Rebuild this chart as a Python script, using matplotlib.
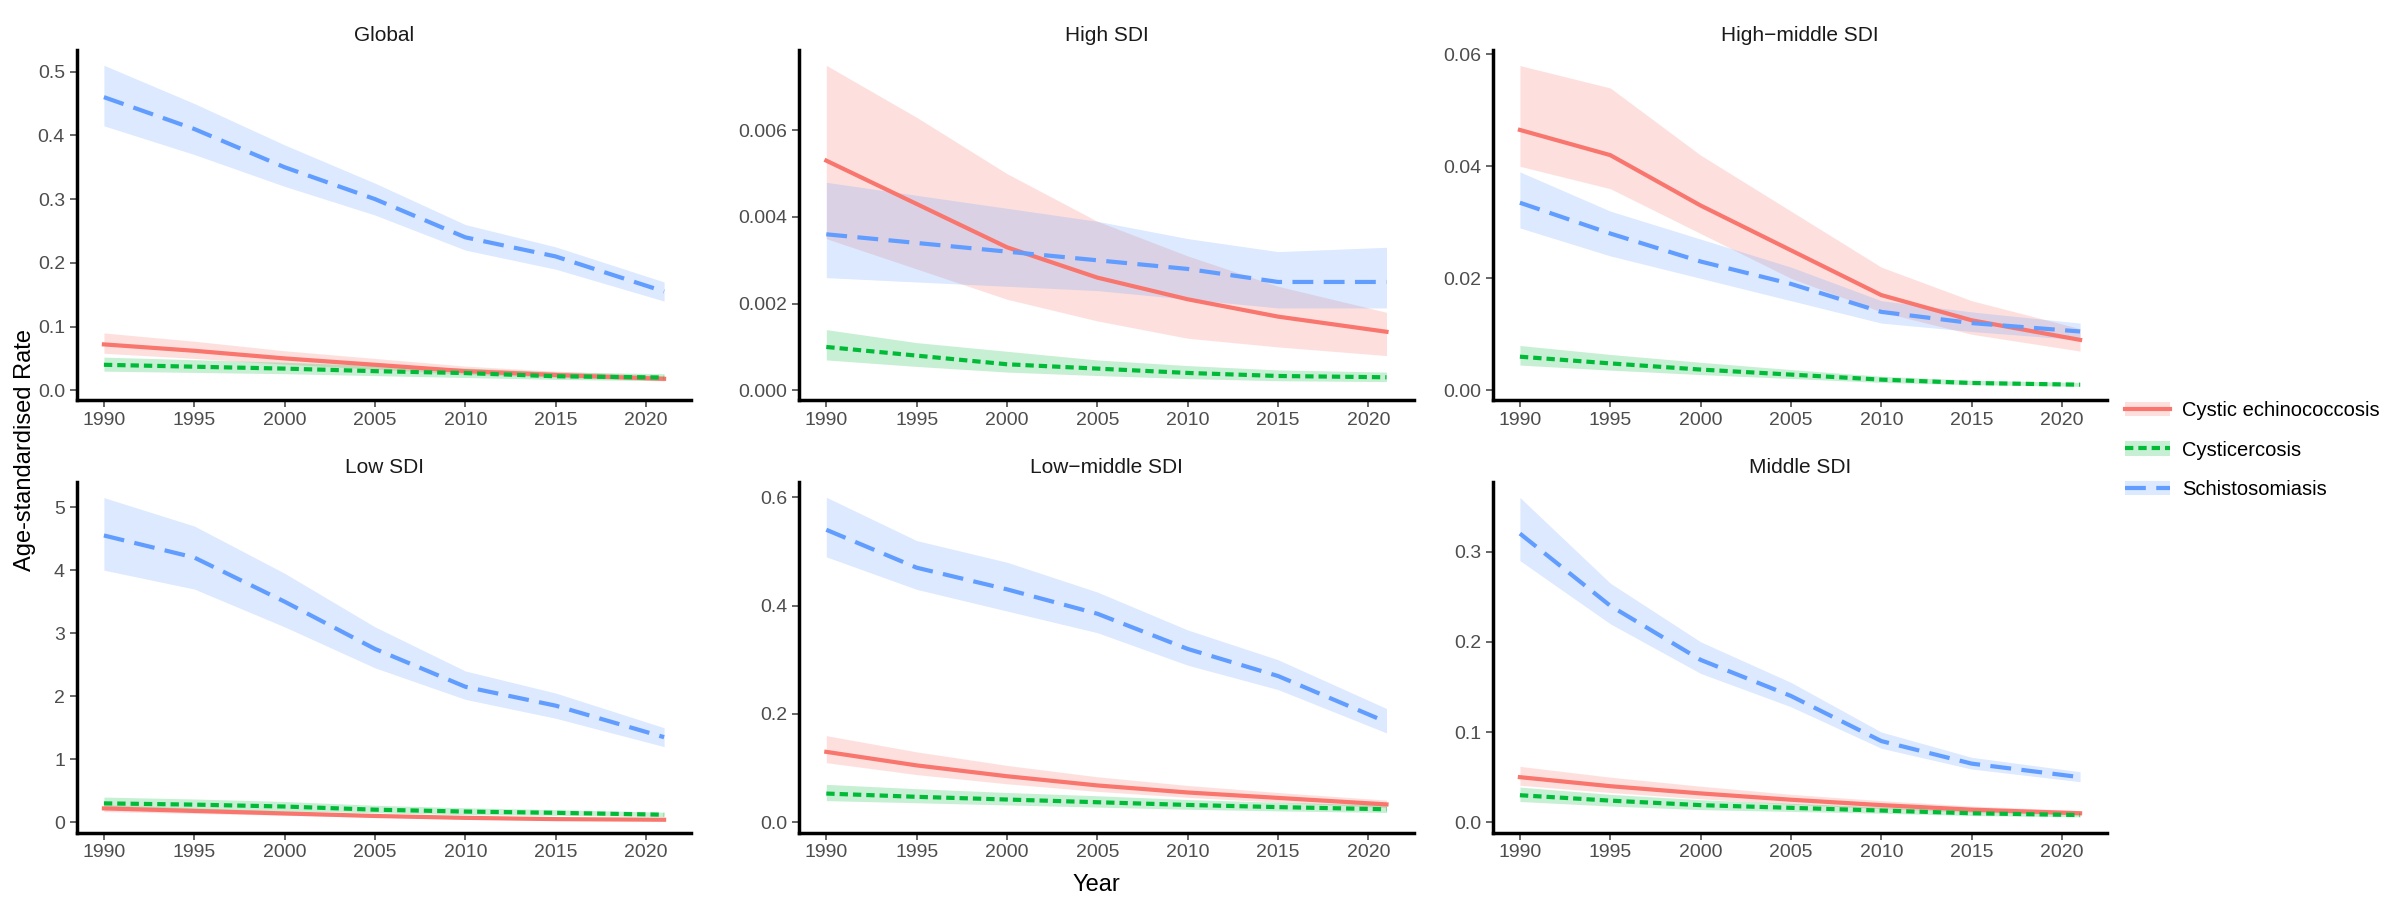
import matplotlib.pyplot as plt
from matplotlib.ticker import FormatStrFormatter, MultipleLocator
from matplotlib.patches import Patch

years = [1990, 1995, 2000, 2005, 2010, 2015, 2021]
regions = ["Global", "High SDI", "High\u2212middle SDI", "Low SDI", "Low\u2212middle SDI", "Middle SDI"]

# cystic echinococcosis: (mean, lower, upper)
ce = {
    "Global": ([0.072, 0.062, 0.05, 0.04, 0.03, 0.024, 0.018], [0.058, 0.05, 0.041, 0.033, 0.025, 0.02, 0.015], [0.09, 0.077, 0.062, 0.05, 0.038, 0.03, 0.023]),
    "High SDI": ([0.0053, 0.0043, 0.0033, 0.0026, 0.0021, 0.0017, 0.00135], [0.0035, 0.0028, 0.0021, 0.0016, 0.0012, 0.001, 0.0008], [0.0075, 0.0063, 0.005, 0.0039, 0.0031, 0.0024, 0.0018]),
    "High\u2212middle SDI": ([0.0465, 0.042, 0.033, 0.025, 0.017, 0.0125, 0.009], [0.04, 0.036, 0.028, 0.02, 0.014, 0.01, 0.007], [0.058, 0.054, 0.042, 0.032, 0.022, 0.016, 0.011]),
    "Low SDI": ([0.22, 0.18, 0.14, 0.1, 0.07, 0.05, 0.04], [0.17, 0.14, 0.11, 0.08, 0.055, 0.04, 0.03], [0.28, 0.23, 0.18, 0.13, 0.09, 0.065, 0.05]),
    "Low\u2212middle SDI": ([0.13, 0.105, 0.085, 0.068, 0.055, 0.045, 0.033], [0.11, 0.088, 0.071, 0.057, 0.046, 0.037, 0.027], [0.16, 0.13, 0.105, 0.084, 0.068, 0.055, 0.041]),
    "Middle SDI": ([0.05, 0.04, 0.032, 0.025, 0.019, 0.014, 0.01], [0.041, 0.033, 0.026, 0.02, 0.015, 0.011, 0.008], [0.062, 0.05, 0.04, 0.031, 0.024, 0.018, 0.013]),
}
# cysticercosis
cy = {
    "Global": ([0.04, 0.037, 0.034, 0.03, 0.027, 0.022, 0.02], [0.03, 0.028, 0.026, 0.023, 0.02, 0.017, 0.015], [0.052, 0.048, 0.044, 0.039, 0.035, 0.029, 0.026]),
    "High SDI": ([0.001, 0.0008, 0.0006, 0.0005, 0.0004, 0.00033, 0.0003], [0.0007, 0.00055, 0.00042, 0.00034, 0.00027, 0.00022, 0.0002], [0.0014, 0.0011, 0.0009, 0.0007, 0.00057, 0.00047, 0.00042]),
    "High\u2212middle SDI": ([0.006, 0.0048, 0.0037, 0.0028, 0.0019, 0.0013, 0.001], [0.0045, 0.0036, 0.0028, 0.0021, 0.0014, 0.001, 0.0007], [0.008, 0.0064, 0.005, 0.0037, 0.0025, 0.0018, 0.0014]),
    "Low SDI": ([0.3, 0.28, 0.25, 0.2, 0.17, 0.15, 0.12], [0.22, 0.2, 0.18, 0.15, 0.12, 0.11, 0.09], [0.4, 0.37, 0.33, 0.27, 0.23, 0.2, 0.16]),
    "Low\u2212middle SDI": ([0.053, 0.047, 0.042, 0.037, 0.032, 0.028, 0.024], [0.04, 0.036, 0.032, 0.028, 0.024, 0.021, 0.018], [0.07, 0.062, 0.055, 0.049, 0.042, 0.037, 0.032]),
    "Middle SDI": ([0.03, 0.024, 0.019, 0.016, 0.013, 0.01, 0.008], [0.023, 0.018, 0.014, 0.012, 0.01, 0.0075, 0.006], [0.039, 0.031, 0.025, 0.021, 0.017, 0.013, 0.0105]),
}
# schistosomiasis
sc = {
    "Global": ([0.46, 0.41, 0.35, 0.30, 0.24, 0.21, 0.155], [0.415, 0.37, 0.32, 0.275, 0.22, 0.19, 0.14], [0.51, 0.45, 0.385, 0.325, 0.26, 0.225, 0.17]),
    "High SDI": ([0.0036, 0.0034, 0.0032, 0.0030, 0.0028, 0.0025, 0.0025], [0.0026, 0.0025, 0.0024, 0.0023, 0.0021, 0.0019, 0.0019], [0.0048, 0.0045, 0.0042, 0.0039, 0.0035, 0.0032, 0.0033]),
    "High\u2212middle SDI": ([0.0335, 0.028, 0.023, 0.019, 0.014, 0.012, 0.0105], [0.029, 0.024, 0.02, 0.016, 0.012, 0.0105, 0.009], [0.039, 0.032, 0.027, 0.022, 0.016, 0.014, 0.012]),
    "Low SDI": ([4.55, 4.2, 3.5, 2.75, 2.15, 1.85, 1.35], [4.0, 3.7, 3.1, 2.45, 1.95, 1.65, 1.2], [5.15, 4.7, 3.95, 3.1, 2.4, 2.05, 1.5]),
    "Low\u2212middle SDI": ([0.54, 0.47, 0.43, 0.385, 0.32, 0.27, 0.185], [0.49, 0.43, 0.39, 0.35, 0.29, 0.245, 0.165], [0.6, 0.52, 0.48, 0.425, 0.355, 0.3, 0.21]),
    "Middle SDI": ([0.32, 0.24, 0.18, 0.14, 0.09, 0.065, 0.05], [0.29, 0.22, 0.165, 0.128, 0.082, 0.059, 0.045], [0.36, 0.265, 0.2, 0.155, 0.1, 0.072, 0.056]),
}

yticks = {
    "Global": (0.1, "%.1f"), "High SDI": (0.002, "%.3f"), "High\u2212middle SDI": (0.02, "%.2f"),
    "Low SDI": (1, "%d"), "Low\u2212middle SDI": (0.2, "%.1f"), "Middle SDI": (0.1, "%.1f"),
}

series = [("Cystic echinococcosis", ce, "#F8766D", "-"),
          ("Cysticercosis", cy, "#00BA38", (0, (2, 1.2))),
          ("Schistosomiasis", sc, "#619CFF", (0, (5, 2.5)))]

plt.rcParams['font.family'] = ['Liberation Sans', 'DejaVu Sans']
fig = plt.figure(figsize=(24, 9), dpi=100)
lefts = [0.032, 0.333, 0.622]
bottoms = [0.555, 0.075]
w, h = 0.256, 0.39

for i, reg in enumerate(regions):
    ax = fig.add_axes([lefts[i % 3], bottoms[i // 3], w, h])
    for name, d, col, ls in series:
        m, lo, hi = d[reg]
        ax.fill_between(years, lo, hi, color=col, alpha=0.22, lw=0)
        ax.plot(years, m, color=col, ls=ls, lw=3, label=name)
    ax.set_title(reg, fontsize=15, color="#1a1a1a")
    ax.set_xticks(range(1990, 2021, 5))
    step, fmt = yticks[reg]
    ax.yaxis.set_major_locator(MultipleLocator(step))
    ax.yaxis.set_major_formatter(FormatStrFormatter(fmt))
    ax.set_ylim(bottom=0 - (ax.get_ylim()[1]) * 0.03)
    ax.set_xlim(1988.5, 2022.5)
    for s in ("top", "right"):
        ax.spines[s].set_visible(False)
    for s in ("left", "bottom"):
        ax.spines[s].set_linewidth(2.5)
    ax.tick_params(labelsize=14, colors="#4d4d4d", width=1.2, length=5)

leg_handles = []
for name, d, col, ls in series:
    leg_handles.append((Patch(color=col, alpha=0.22, lw=0),
                        plt.Line2D([], [], color=col, ls=ls, lw=3)))
fig.legend(leg_handles, [s[0] for s in series], loc="center left",
           bbox_to_anchor=(0.878, 0.5), frameon=False, fontsize=14.5,
           handlelength=2.2, handletextpad=0.6, labelspacing=1.0)
fig.text(0.006, 0.5, "Age-standardised Rate", rotation=90, va="center", fontsize=17)
fig.text(0.457, 0.01, "Year", ha="center", fontsize=17)
fig.savefig("out.png", dpi=100)
